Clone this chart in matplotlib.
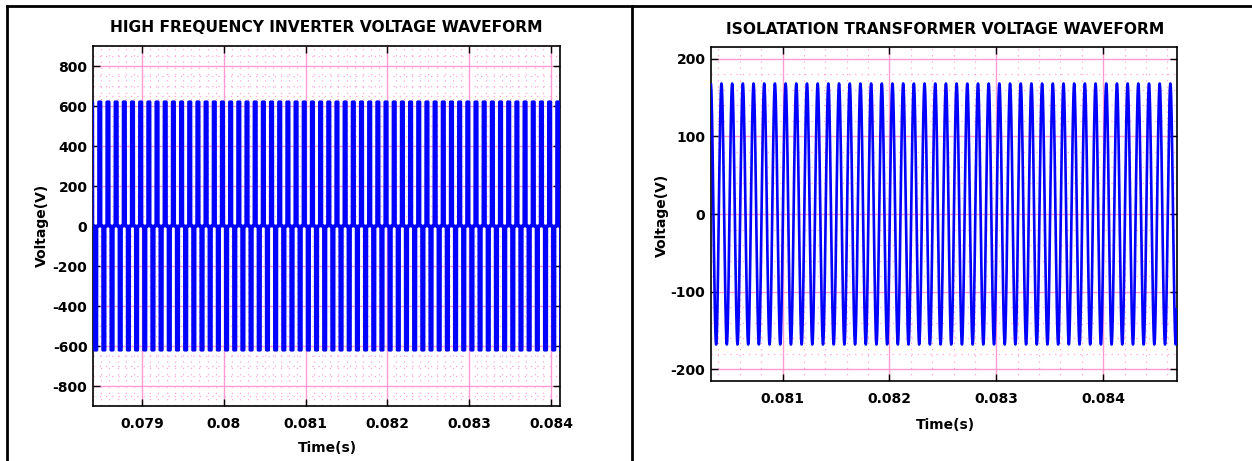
import numpy as np
import matplotlib
matplotlib.use("Agg")
import matplotlib.pyplot as plt
from matplotlib.lines import Line2D
from matplotlib.ticker import MultipleLocator

plt.rcParams["axes.unicode_minus"] = False

# ---------------- data ----------------
# Left: high-frequency inverter output (quasi-square wave)
inv_t_start = 0.07840
inv_t_end = 0.08411
inv_freq = 10000.0                 # Hz
inv_phase_start = 0.07847          # start of a positive pulse
# one period: fractional time and voltage
inv_period_frac = [0.00, 0.01, 0.25, 0.26, 0.50, 0.51, 0.75, 0.76, 1.00]
inv_period_volt = [0.0, 620.0, 620.0, 0.0, 0.0, -620.0, -620.0, 0.0, 0.0]
inv_xticks = [0.079, 0.080, 0.081, 0.082, 0.083, 0.084]
inv_xticklabels = ["0.079", "0.08", "0.081", "0.082", "0.083", "0.084"]
inv_yticks = [-800, -600, -400, -200, 0, 200, 400, 600, 800]
inv_ylim = (-900, 900)

# Right: isolation transformer output (sine)
tr_t_start = 0.08033
tr_t_end = 0.08469
tr_freq = 10000.0
tr_peak = 168.0
tr_peak_time = 0.080428
tr_xticks = [0.081, 0.082, 0.083, 0.084]
tr_xticklabels = ["0.081", "0.082", "0.083", "0.084"]
tr_yticks = [-200, -100, 0, 100, 200]
tr_ylim = (-215, 215)

# ---------------- build waveforms ----------------
T = 1.0 / inv_freq
n_per = int(np.ceil((inv_t_end - inv_phase_start) / T)) + 2
inv_t = []
inv_v = []
for k in range(-1, n_per):
    base = inv_phase_start + k * T
    for f, v in zip(inv_period_frac[:-1], inv_period_volt[:-1]):
        inv_t.append(base + f * T)
        inv_v.append(v)
inv_t = np.array(inv_t)
inv_v = np.array(inv_v)

tr_t = np.linspace(tr_t_start, tr_t_end, 6000)
tr_v = tr_peak * np.cos(2 * np.pi * tr_freq * (tr_t - tr_peak_time))

# ---------------- figure ----------------
W, H = 1252, 461
fig = plt.figure(figsize=(W / 100, H / 100), dpi=100)
fig.patch.set_facecolor("white")

major_c = "#ff9bd2"
minor_c = "#ffa6da"
blue = "#0000ff"


def px_ax(x0, y0, x1, y1):
    return fig.add_axes([x0 / W, 1 - y1 / H, (x1 - x0) / W, (y1 - y0) / H])


def style(ax, xticks, xlabels, yticks, xminor, yminor):
    ax.set_xticks(xticks)
    ax.set_xticklabels(xlabels)
    ax.set_yticks(yticks)
    ax.xaxis.set_minor_locator(MultipleLocator(xminor))
    ax.yaxis.set_minor_locator(MultipleLocator(yminor))
    ax.grid(True, which="major", color=major_c, lw=1.0, ls="-", zorder=0)
    ax.grid(True, which="minor", color=minor_c, lw=0.9, ls=(0, (1, 4)), zorder=0)
    ax.set_axisbelow(True)
    ax.tick_params(which="major", direction="in", top=True, right=True,
                   length=5, width=1.0, labelsize=10, pad=4)
    ax.tick_params(axis="x", which="major", pad=8)
    ax.tick_params(which="minor", length=0)
    for lab in ax.get_xticklabels() + ax.get_yticklabels():
        lab.set_fontweight("bold")
    for s in ax.spines.values():
        s.set_linewidth(1.2)
        s.set_color("black")


# Left axes
ax1 = px_ax(93, 46, 560, 406)
ax1.plot(inv_t, inv_v, color=blue, lw=2.3, solid_joinstyle="round",
         solid_capstyle="round", zorder=3)
ax1.set_xlim(inv_t_start, inv_t_end)
ax1.set_ylim(*inv_ylim)
style(ax1, inv_xticks, inv_xticklabels, inv_yticks, 0.0001, 50)

# Right axes
ax2 = px_ax(711, 47, 1177, 381)
ax2.plot(tr_t, tr_v, color=blue, lw=1.9, zorder=3)
ax2.set_xlim(tr_t_start, tr_t_end)
ax2.set_ylim(*tr_ylim)
style(ax2, tr_xticks, tr_xticklabels, tr_yticks, 0.0002, 20)

# Titles and labels
def ftext(x, y, s, **kw):
    fig.text(x / W, 1 - y / H, s, ha="center", va="center", **kw)

ftext(326, 28, "HIGH FREQUENCY INVERTER VOLTAGE WAVEFORM", fontsize=11.2, fontweight="bold")
ftext(945, 30, "ISOLATATION TRANSFORMER VOLTAGE WAVEFORM", fontsize=11.2, fontweight="bold")
ftext(42, 225, "Voltage(V)", fontsize=10, fontweight="bold", rotation=90)
ftext(662, 215, "Voltage(V)", fontsize=10, fontweight="bold", rotation=90)
ftext(327, 448, "Time(s)", fontsize=10, fontweight="bold")
ftext(945, 425, "Time(s)", fontsize=10, fontweight="bold")

# Table borders
def fline(x0, y0, x1, y1, lw=2.0):
    fig.add_artist(Line2D([x0 / W, x1 / W], [1 - y0 / H, 1 - y1 / H],
                          color="black", lw=lw, transform=fig.transFigure))

fline(7, 6, 1251, 6)
fline(7, 6, 7, 461)
fline(632, 6, 632, 461)

fig.savefig("out.png", dpi=100, facecolor="white")
